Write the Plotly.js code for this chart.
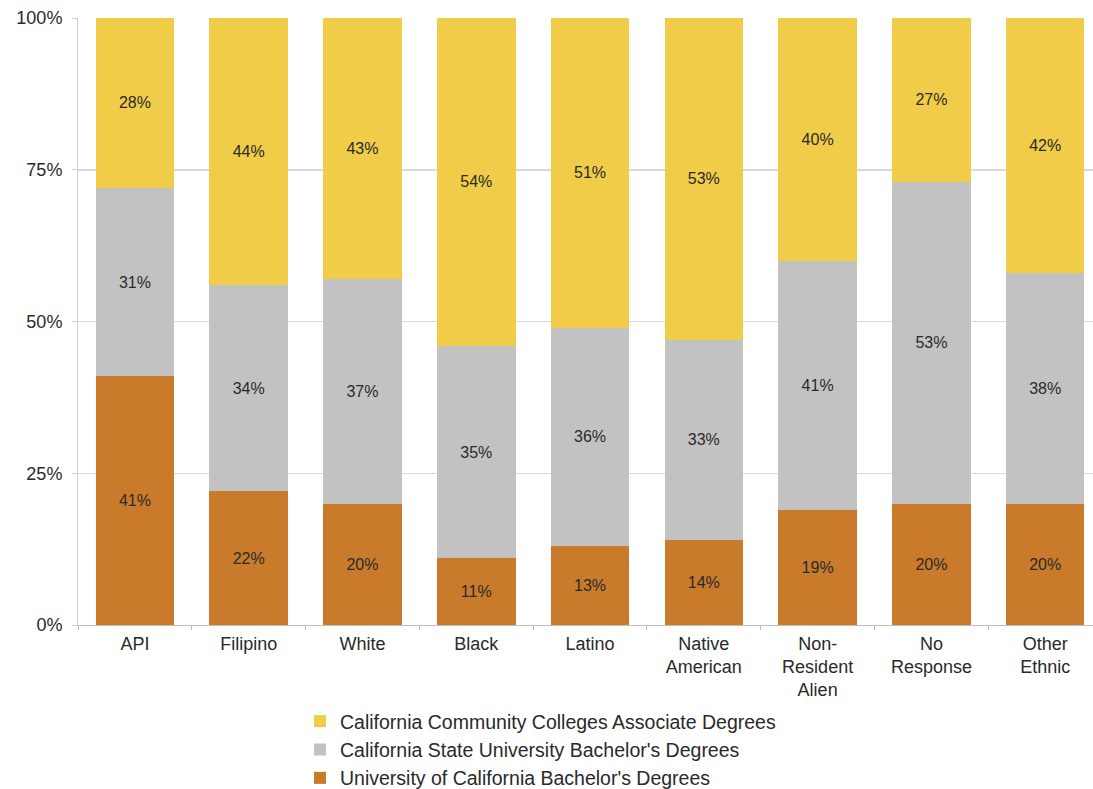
<!DOCTYPE html>
<html>
<head>
<meta charset="utf-8">
<script src="https://cdn.plot.ly/plotly-3.0.1.min.js"></script>
<style>html,body{margin:0;padding:0;background:#fff;}#chart{width:1093px;height:789px;}</style>
</head>
<body>
<div id="chart"></div>
<script>
const categories = ["API", "Filipino", "White", "Black", "Latino", "Native<br>American", "Non-<br>Resident<br>Alien", "No<br>Response", "Other<br>Ethnic"];
const ucBachelors = [41, 22, 20, 11, 13, 14, 19, 20, 20];
const csuBachelors = [31, 34, 37, 35, 36, 33, 41, 53, 38];
const cccAssociate = [28, 44, 43, 54, 51, 53, 40, 27, 42];
const yTickVals = [0, 25, 50, 75, 100];
const yTickText = ["0%", "25%", "50%", "75%", "100%"];

const common = {
  type: 'bar',
  x: categories,
  width: 0.69,
  textposition: 'inside',
  insidetextanchor: 'middle',
  texttemplate: '%{y}%',
  textfont: {family: 'Liberation Sans, Arial, sans-serif', size: 16, color: '#2a2a2a'},
  constraintext: 'none',
  hoverinfo: 'skip'
};

const traces = [
  Object.assign({}, common, {name: "University of California Bachelor's Degrees", y: ucBachelors, marker: {color: '#C97A2B'}}),
  Object.assign({}, common, {name: "California State University Bachelor's Degrees", y: csuBachelors, marker: {color: '#C2C2C2'}}),
  Object.assign({}, common, {name: "California Community Colleges Associate Degrees", y: cccAssociate, marker: {color: '#F0CC48'}})
];

const layout = {
  width: 1093, height: 789,
  margin: {l: 78, r: 0, t: 18, b: 164, autoexpand: false},
  barmode: 'stack',
  paper_bgcolor: '#fff', plot_bgcolor: '#fff',
  font: {family: 'Liberation Sans, Arial, sans-serif', color: '#2a2a2a', size: 18},
  showlegend: true,
  legend: {
    x: 300 / 1093, xref: 'container', xanchor: 'left',
    y: 1 - 702 / 789, yref: 'container', yanchor: 'top',
    orientation: 'v', traceorder: 'reversed',
    font: {size: 19.5, color: '#2a2a2a'},
    itemwidth: 30, tracegroupgap: 0,
    bgcolor: 'rgba(0,0,0,0)'
  },
  xaxis: {
    range: [-0.5, 8.42],
    showline: true, linecolor: '#BFBFBF', linewidth: 1,
    ticks: 'outside', tickson: 'boundaries', ticklen: 4, tickcolor: '#BFBFBF',
    tickfont: {size: 18, color: '#2a2a2a'},
    ticklabelstandoff: 2,
    showgrid: false, fixedrange: true, automargin: false
  },
  yaxis: {
    range: [0, 100],
    tickvals: yTickVals, ticktext: yTickText,
    showline: true, linecolor: '#D0D0D0', linewidth: 1,
    ticks: 'outside', ticklen: 5, tickcolor: '#D0D0D0',
    ticklabelstandoff: 6,
    showgrid: true, gridcolor: '#D9D9D9', gridwidth: 1.5,
    zeroline: false,
    tickfont: {size: 18, color: '#2a2a2a'},
    fixedrange: true, automargin: false
  }
};

Plotly.newPlot('chart', traces, layout, {displayModeBar: false, staticPlot: true});
</script>
</body>
</html>
